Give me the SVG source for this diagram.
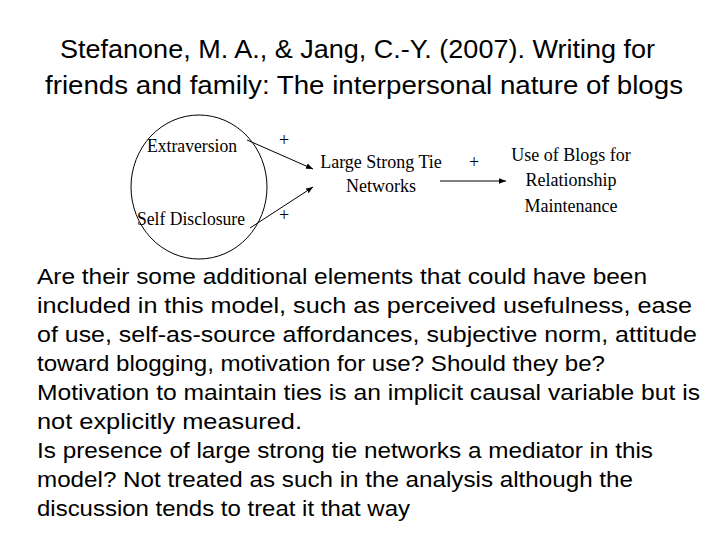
<svg xmlns="http://www.w3.org/2000/svg" width="720" height="540" viewBox="0 0 720 540">
<defs>
<style>
.t{font-family:"Liberation Sans",Arial,sans-serif;fill:#000}
.d{font-family:"Liberation Serif","Times New Roman",serif;font-size:18px;fill:#000}
.l{stroke:#000;stroke-width:1;fill:none}
</style>
<marker id="a" viewBox="0 0 10 10" refX="10" refY="5" markerWidth="7" markerHeight="7" orient="auto"><path d="M0,1 L10,5 L0,9 z" fill="#000"/></marker>
</defs>
<rect width="720" height="540" fill="#fff"/>
<g id="title" class="t" font-size="25" lengthAdjust="spacingAndGlyphs">
<text x="60" y="58" textLength="595" lengthAdjust="spacingAndGlyphs">Stefanone, M. A., &amp; Jang, C.-Y. (2007). Writing for</text>
<text x="45" y="94" textLength="638" lengthAdjust="spacingAndGlyphs">friends and family: The interpersonal nature of blogs</text>
</g>
<g id="group"><ellipse class="l" cx="199" cy="187" rx="68" ry="72"/></g>
<g id="extraversion"><text class="d" x="147" y="152" textLength="90" lengthAdjust="spacingAndGlyphs">Extraversion</text></g>
<g id="selfdisclosure"><text class="d" x="137" y="225" textLength="108" lengthAdjust="spacingAndGlyphs">Self Disclosure</text></g>
<g id="networks" class="d" text-anchor="middle">
<text x="381" y="168">Large Strong Tie</text>
<text x="381" y="192">Networks</text>
</g>
<g id="use" class="d" text-anchor="middle">
<text x="571" y="161">Use of Blogs for</text>
<text x="571" y="186">Relationship</text>
<text x="571" y="212">Maintenance</text>
</g>
<g id="connectors">
<line class="l" x1="247" y1="140" x2="313" y2="169" marker-end="url(#a)"/>
<line class="l" x1="250" y1="228" x2="313" y2="187" marker-end="url(#a)"/>
<line class="l" x1="440" y1="181" x2="506" y2="181" marker-end="url(#a)"/>
<g class="d" text-anchor="middle">
<text x="284" y="146">+</text>
<text x="474" y="168">+</text>
<text x="284" y="221">+</text>
</g>
</g>
<g id="body" class="t" font-size="22" xml:space="preserve">
<text x="37" y="284" textLength="610" lengthAdjust="spacingAndGlyphs">Are their some additional elements that could have been</text>
<text x="37" y="313" textLength="655" lengthAdjust="spacingAndGlyphs">included in this model, such as perceived usefulness, ease</text>
<text x="37" y="342" textLength="660" lengthAdjust="spacingAndGlyphs">of use, self-as-source affordances, subjective norm, attitude</text>
<text x="37" y="371" textLength="568" lengthAdjust="spacingAndGlyphs">toward blogging, motivation for use?  Should they be?</text>
<text x="37" y="400" textLength="663" lengthAdjust="spacingAndGlyphs">Motivation to maintain ties is an implicit causal variable but is</text>
<text x="37" y="429" textLength="265" lengthAdjust="spacingAndGlyphs">not explicitly measured.</text>
<text x="37" y="458" textLength="616" lengthAdjust="spacingAndGlyphs">Is presence of large strong tie networks a mediator in this</text>
<text x="37" y="487" textLength="596" lengthAdjust="spacingAndGlyphs">model?  Not treated as such in the analysis although the</text>
<text x="37" y="516" textLength="373" lengthAdjust="spacingAndGlyphs">discussion tends to treat it that way</text>
</g>
</svg>
